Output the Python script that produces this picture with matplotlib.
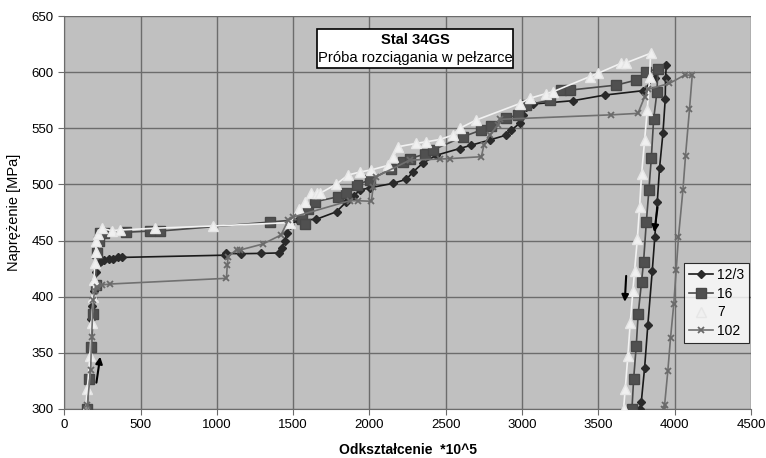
import matplotlib
matplotlib.use("Agg")
import matplotlib.pyplot as plt
from matplotlib.patches import Rectangle

plt.rcParams['font.family'] = ['Liberation Sans', 'DejaVu Sans']

# series 12/3
x_123 = [178, 183, 188, 195, 200, 210, 225, 240, 260, 290, 320, 350, 376, 1052, 1063, 1155, 1288,
         1408, 1425, 1445, 1460, 1478, 1530, 1652, 1784, 1849, 1900, 1936, 2002, 2155, 2242, 2284,
         2350, 2438, 2591, 2668, 2788, 2897, 2930, 2984, 3006, 3028, 3072, 3334, 3541, 3792, 3870,
         3945, 3940, 3938, 3923, 3901, 3886, 3870, 3853, 3824, 3803, 3781, 3775]
y_123 = [380, 392, 398, 405, 412, 422, 430, 432, 433, 434, 434, 435, 435, 437, 438.6, 438.3, 438.6,
         439, 443, 450, 457, 464, 468, 469, 475.7, 484.6, 490, 495, 497, 501, 504.6, 511,
         519, 526, 532, 535, 539.6, 544, 548.5, 554.4, 562, 569, 571.6, 574.6, 579.6, 583.5, 595,
         606, 594.5, 575.8, 545.5, 515, 484.6, 453.4, 423, 374.8, 336.8, 306, 300]

# series 16
x_16 = [150, 164, 178, 190, 205, 216, 225, 234, 260, 404, 561, 627, 1348, 1560, 1576, 1600, 1642,
        1794, 1849, 1915, 2002, 2144, 2220, 2264, 2362, 2416, 2613, 2733, 2799, 2897, 2973, 3028,
        3181, 3257, 3312, 3618, 3749, 3814, 3890, 3884, 3862, 3847, 3831, 3814, 3796, 3783, 3761,
        3748, 3731, 3720]
y_16 = [300, 326.4, 355, 385, 410, 438.6, 450, 456.7, 457, 457.4, 458.5, 458.5, 466.5, 469, 465, 478,
        484.6, 489, 492, 499.5, 504, 514, 520, 523, 527, 530.7, 542.5, 548.5, 552, 558.9, 562, 570.7,
        575, 584, 584, 588.5, 593, 600.4, 603, 582.6, 558, 523.8, 495, 466.3, 431, 413.4, 385,
        356, 326.7, 300]

# series 7
x_7 = [140, 151, 168, 179, 190, 195, 200, 205, 210, 220, 245, 310, 365, 594, 976, 1480, 1540, 1576,
       1620, 1653, 1674, 1780, 1860, 1936, 2013, 2122, 2155, 2188, 2308, 2373, 2460, 2547, 2591, 2700,
       2984, 3050, 3159, 3203, 3443, 3497, 3650, 3683, 3842, 3836, 3820, 3803, 3783, 3770, 3755, 3737,
       3726, 3709, 3693, 3676, 3665]
y_7 = [300, 318, 347, 377, 400, 415, 430, 440, 450, 456, 461, 458.8, 459.4, 461, 463, 466, 478, 484.6,
       492, 492, 492, 500, 508.4, 511, 513, 517, 524.7, 533.6, 536.6, 538, 540, 544, 550, 557.4,
       572, 576.7, 581, 582.6, 596, 599, 608, 608.4, 616.8, 596, 566, 539.6, 509, 480, 451, 423,
       405, 377, 347, 318, 300]

# series 102
x_102 = [148, 151, 173, 179, 190, 200, 212, 250, 299, 1063, 1068, 1074, 1129, 1151, 1303, 1420, 1467,
         1500, 1871, 1925, 2013, 2024, 2046, 2264, 2460, 2526, 2733, 2750, 2788, 2843, 2853, 3585,
         3759, 3803, 3824, 3966, 4065, 4115, 4097, 4071, 4054, 4025, 4010, 3994, 3973, 3955, 3934, 3930]
y_102 = [298, 303.6, 334.7, 364, 397, 405, 409, 410.5, 411.3, 416.4, 428, 435.6, 442, 441.6, 447, 455, 468,
         471, 485.5, 485.5, 485, 498, 507, 521.7, 522.6, 523, 524.7, 535, 544, 553, 558, 562,
         563.3, 578, 584.7, 590, 597.4, 597.4, 567, 525.6, 495, 453.4, 423.8, 393.5, 363.5, 333.8, 303.6, 300]

# arrows (start -> end)
arrows = [((208, 321), (238, 349)), ((3890, 482), (3864, 455)), ((3683, 421), (3672, 393))]

fig = plt.figure(figsize=(7.66, 4.58), dpi=100)
ax = fig.add_axes([0.0839, 0.107, 0.8965, 0.858])
ax.set_facecolor('#c0c0c0')

ax.plot(x_123, y_123, color='#1a1a1a', lw=1.2, marker='D', ms=3.8, mfc='#2a2a2a', mec='#2a2a2a',
        label='12/3', zorder=3)
ax.plot(x_16, y_16, color='#4a4a4a', lw=1.2, marker='s', ms=7.5, mfc='#505050', mec='#484848',
        label='16', zorder=3)
ax.plot(x_7, y_7, color='#f2f2f2', lw=1.2, marker='^', ms=6.5, mfc='#f0f0f0', mec='#e6e6e6',
        label='7', zorder=3)
ax.plot(x_102, y_102, color='#707070', lw=1.2, marker='x', ms=5, mew=1.3, mec='#6a6a6a',
        label='102', zorder=3)

for (x0, y0), (x1, y1) in arrows:
    ax.annotate('', xy=(x1, y1), xytext=(x0, y0),
                arrowprops=dict(arrowstyle='-|>', color='black', lw=1.5, mutation_scale=10),
                zorder=5)

ax.set_xlim(0, 4500)
ax.set_ylim(300, 650)
ax.set_xticks(range(0, 4501, 500))
ax.set_yticks(range(300, 651, 50))
ax.grid(True, color='#6c6c6c', lw=1)
ax.set_axisbelow(True)
for s in ['top', 'right']:
    ax.spines[s].set_visible(False)
ax.spines['left'].set_color('#6c6c6c')
ax.spines['bottom'].set_color('#6c6c6c')
ax.tick_params(direction='out', length=4, color='#6c6c6c', labelsize=9.5)

ax.set_xlabel('Odkształcenie  *10^5', fontsize=10, fontweight='bold', labelpad=8)
ax.set_ylabel('Naprężenie [MPa]', fontsize=10.5, labelpad=8)

ax.add_patch(Rectangle((0.3677, 0.867), 0.2863, 0.099, transform=ax.transAxes,
                       facecolor='white', edgecolor='black', lw=1.2, zorder=6))
ax.text(0.5109, 0.938, 'Stal 34GS', transform=ax.transAxes, ha='center', va='center',
        fontsize=10.6, fontweight='bold', zorder=7)
ax.text(0.5109, 0.894, 'Próba rozciągania w pełzarce', transform=ax.transAxes, ha='center',
        va='center', fontsize=10.6, zorder=7)

leg = ax.legend(loc='upper left', bbox_to_anchor=(0.903, 0.372), fontsize=10, frameon=True,
                fancybox=False, edgecolor='black', handlelength=1.7, borderpad=0.35,
                labelspacing=0.35, handletextpad=0.3, borderaxespad=0)
leg.get_frame().set_linewidth(0.8)
leg.set_zorder(8)

fig.savefig('out.png', dpi=100)
